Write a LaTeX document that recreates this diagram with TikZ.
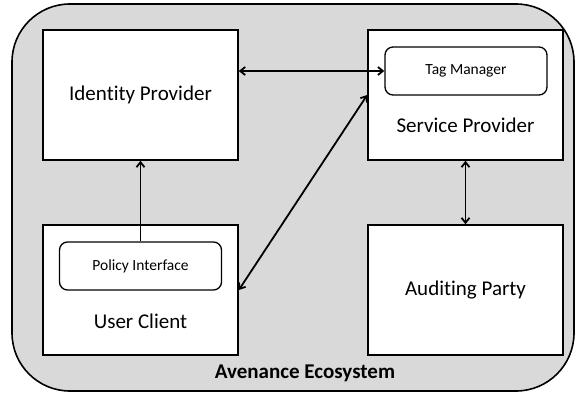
\documentclass[tikz,border=0pt]{standalone}
\usepackage{fontspec}
\setmainfont[Ligatures={NoCommon}]{Carlito}
\usetikzlibrary{arrows.meta}

\definecolor{ecogray}{gray}{0.85}

\tikzset{
  party/.style = {draw, line width=1.6pt, fill=white,
                  minimum width=195pt, minimum height=130pt,
                  font=\fontsize{21}{24}\selectfont},
  module/.style = {draw, line width=1.3pt, fill=white, rounded corners=8pt,
                   minimum width=162pt, minimum height=48pt,
                   font=\fontsize{15.5}{18}\selectfont},
  link/.style = {{Straight Barb[length=5pt,width=8pt]}-{Straight Barb[length=5pt,width=8pt]}, line width=1.8pt},
  uplink/.style = {-{Straight Barb[length=5pt,width=8pt]}, line width=1.8pt}
}

\begin{document}
\begin{tikzpicture}[x=1pt, y=-1pt]
                \useasboundingbox (0,0) rectangle (576,393);

                % ecosystem frame
                \draw[line width=1.6pt, fill=ecogray, rounded corners=58pt] (12,4) rectangle (574,391);
                \node[font=\bfseries\fontsize{21}{24}\selectfont] (eco) at (305,373) {Avenance Ecosystem};

                % parties
                \node[party] (idp) at (140.5,95) {Identity Provider};
                \node[party] (sp) at (465.5,95) {};
                \node[party] (uc) at (140.5,290) {};
                \node[party] (ap) at (465.5,290) {Auditing Party};

                \node[module] (tag) at (466,71) {Tag Manager};
                \node[font=\fontsize{21}{24}\selectfont] (splabel) at (465.5,125) {Service Provider};

                \node[module] (pol) at (140.5,266) {Policy Interface};
                \node[font=\fontsize{21}{24}\selectfont] (uclabel) at (140.5,321) {User Client};

                % links
                \draw[link] (idp.east |- tag) -- (tag.west);
                \draw[uplink] (pol.north) -- (idp.south);
                \draw[link] (uc.east) -- (sp.west);
                \draw[link] (sp.south) -- (ap.north);
\end{tikzpicture}
\end{document}
